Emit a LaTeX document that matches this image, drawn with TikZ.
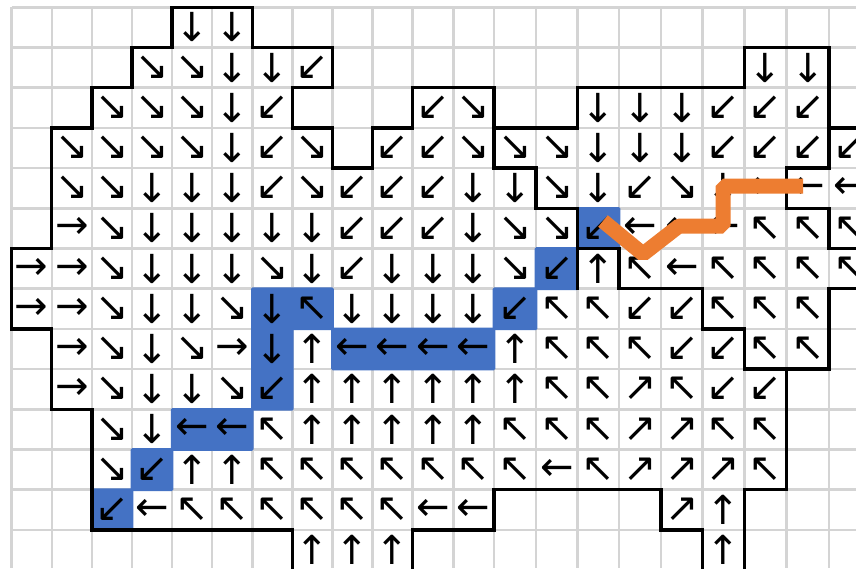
\documentclass[tikz,border=0pt]{standalone}
\usepackage{fontspec}
\newfontfamily\arrowfont{DejaVu Sans}
\definecolor{cellblue}{HTML}{4472C4}
\definecolor{pathorange}{HTML}{ED7D31}
\definecolor{gridgray}{HTML}{D4D4D4}
\newcommand\colx[1]{\ifcase#1 11.7\or 51.8\or 91.9\or 132.0\or 172.1\or 212.2\or 252.3\or 292.4\or 332.5\or 372.6\or 412.7\or 453.3\or 494\or 536\or 577.5\or 619\or 661\or 702.5\or 744.5\or 786.7\or 829\or 871\fi}
\newcommand\putarrow[3]{%
  \pgfmathtruncatemacro\ca{#1}%
  \pgfmathtruncatemacro\cb{#1+1}%
  \pgfmathsetmacro\cx{(\colx{\ca}+\colx{\cb})/2}%
  \pgfmathsetmacro\cy{7.3+40.2*#2+20.1}%
  \node[arr] (a\ca-#2) at (\cx,\cy) {#3};}
\newcommand\arrowrow[2]{\foreach \cc/\gg in {#2} {\putarrow{\cc}{#1}{\gg}}}
\tikzset{
  arr/.style={font=\arrowfont\fontsize{40}{40}\selectfont, inner sep=0pt, text=black},
  gridline/.style={draw=gridgray, line width=2.5pt},
  bluecell/.style={fill=cellblue, rounded corners=1.5pt},
  border/.style={draw=black, line width=3.3pt, line cap=rect, line join=miter},
  river/.style={draw=pathorange, line width=15pt, line join=bevel, line cap=butt}
}
\begin{document}
\begin{tikzpicture}[x=1pt,y=-1pt]
\useasboundingbox (0,0) rectangle (856,568);
\clip (0,0) rectangle (856,568);
\fill[white] (0,0) rectangle (856,568);
% grid vertices
\foreach \k in {0,...,21} {\foreach \j in {0,...,14} {%
  \pgfmathsetmacro\vx{\colx{\k}}\pgfmathsetmacro\vy{7.3+40.2*\j}%
  \coordinate (v\k-\j) at (\vx,\vy);}}
% gray grid
\foreach \k in {0,...,21} {\pgfmathsetmacro\vx{\colx{\k}}\draw[gridline] (\vx,7.3) -- (\vx,568);}
\foreach \j in {0,...,14} {\pgfmathsetmacro\vy{7.3+40.2*\j}\draw[gridline] (11.7,\vy) -- (856,\vy);}
% blue cells
\foreach \c/\r in {14/5,13/6,12/7,6/7,7/7,6/8,8/8,9/8,10/8,11/8,6/9,4/10,5/10,3/11,2/12} {%
  \pgfmathtruncatemacro\cn{\c+1}\pgfmathtruncatemacro\rn{\r+1}%
  \fill[bluecell] ([shift={(-1.3,-1.3)}]v\c-\r) rectangle ([shift={(1.3,1.3)}]v\cn-\rn);}
% borders
\draw[border] (v4-0) -- (v6-0) -- (v6-1) -- (v8-1) -- (v8-2) -- (v7-2) -- (v7-3) -- (v8-3) -- (v8-4) -- (v9-4) -- (v9-3) -- (v10-3) -- (v10-2) -- (v12-2) -- (v12-3);
\draw[border] (v18-1) -- (v20-1) -- (v20-4) -- (v19-4) -- (v19-5) -- (v20-5) -- (v20-6) -- (v21-6);
\draw[border] (v21-7) -- (v20-7) -- (v20-9) -- (v18-9) -- (v18-8) -- (v17-8) -- (v17-7) -- (v15-7) -- (v15-6) -- (v14-6) -- (v14-5) -- (v13-5) -- (v13-4) -- (v12-4) -- (v12-3) -- (v14-3) -- (v14-2) -- (v18-2) -- (v18-1);
\draw[border] (v21-3) -- (v20-3);
\draw[border] (v14-6) -- (v14-7);
\draw[border] (v19-9) -- (v19-12) -- (v18-12) -- (v18-14);
\draw[border] (v17-14) -- (v17-13) -- (v16-13) -- (v16-12) -- (v12-12) -- (v12-13) -- (v10-13) -- (v10-14);
\draw[border] (v7-14) -- (v7-13) -- (v2-13) -- (v2-10) -- (v1-10) -- (v1-8) -- (v0-8) -- (v0-6) -- (v1-6) -- (v1-3) -- (v2-3) -- (v2-2) -- (v3-2) -- (v3-1) -- (v4-1) -- (v4-0);
% arrows
\arrowrow{0}{4/↓,5/↓}
\arrowrow{1}{3/↘,4/↘,5/↓,6/↓,7/↙,18/↓,19/↓}
\arrowrow{2}{2/↘,3/↘,4/↘,5/↓,6/↙,10/↙,11/↘,14/↓,15/↓,16/↓,17/↙,18/↙,19/↙}
\arrowrow{3}{1/↘,2/↘,3/↘,4/↘,5/↓,6/↙,7/↘,9/↙,10/↙,11/↘,12/↘,13/↘,14/↓,15/↓,16/↓,17/↙,18/↙,19/↙,20/↙}
\arrowrow{4}{1/↘,2/↘,3/↓,4/↓,5/↓,6/↙,7/↘,8/↙,9/↙,10/↙,11/↓,12/↓,13/↘,14/↓,15/↙,16/↘,17/↓,18/←,19/←,20/←}
\arrowrow{5}{1/→,2/↘,3/↓,4/↓,5/↓,6/↓,7/↓,8/↙,9/↙,10/↙,11/↓,12/↘,13/↘,14/↙,15/←,16/←,17/←,18/↖,19/↖,20/↖}
\arrowrow{6}{0/→,1/→,2/↘,3/↓,4/↓,5/↓,6/↘,7/↓,8/↙,9/↓,10/↓,11/↓,12/↘,13/↙,14/↑,15/↖,16/←,17/↖,18/↖,19/↖,20/↖}
\arrowrow{7}{0/→,1/→,2/↘,3/↓,4/↓,5/↘,6/↓,7/↖,8/↓,9/↓,10/↓,11/↓,12/↙,13/↖,14/↖,15/↙,16/↙,17/↖,18/↖,19/↖}
\arrowrow{8}{1/→,2/↘,3/↓,4/↘,5/→,6/↓,7/↑,8/←,9/←,10/←,11/←,12/↑,13/↖,14/↖,15/↖,16/↙,17/↙,18/↖,19/↖}
\arrowrow{9}{1/→,2/↘,3/↓,4/↓,5/↘,6/↙,7/↑,8/↑,9/↑,10/↑,11/↑,12/↑,13/↖,14/↖,15/↗,16/↖,17/↙,18/↙}
\arrowrow{10}{2/↘,3/↓,4/←,5/←,6/↖,7/↑,8/↑,9/↑,10/↑,11/↑,12/↖,13/↖,14/↖,15/↗,16/↗,17/↖,18/↖}
\arrowrow{11}{2/↘,3/↙,4/↑,5/↑,6/↖,7/↖,8/↖,9/↖,10/↖,11/↖,12/↖,13/←,14/↖,15/↗,16/↗,17/↗,18/↖}
\arrowrow{12}{2/↙,3/←,4/↖,5/↖,6/↖,7/↖,8/↖,9/↖,10/←,11/←,16/↗,17/↑}
\arrowrow{13}{7/↑,8/↑,9/↑,17/↑}
% orange path
\coordinate (o1) at (603,221);
\coordinate (o2) at (643,254);
\coordinate (o3) at (679,226);
\coordinate (o4) at (723,226);
\coordinate (o5) at (723,186);
\coordinate (o6) at (803,186);
\draw[river] (o1) -- (o2) -- (o3) -- (o4) -- (o5) -- (o6);
\end{tikzpicture}
\end{document}
